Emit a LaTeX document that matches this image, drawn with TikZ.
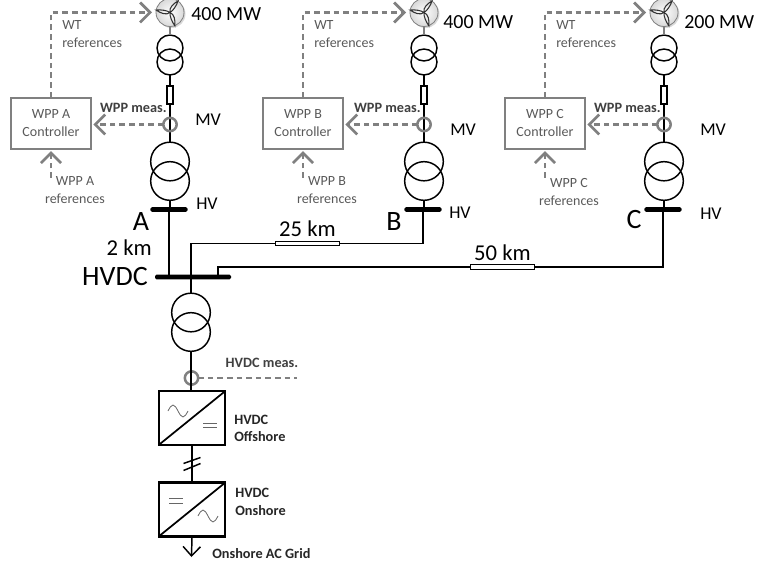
\documentclass[tikz,border=0pt]{standalone}
\usepackage{fontspec}
\setmainfont{Carlito}
\usetikzlibrary{arrows.meta}
\tikzset{
  elec/.style={draw=black,line width=1.1pt,inner sep=0pt,outer sep=0pt},
  trsmall/.style={elec,circle,minimum size=19.5pt},
  trlarge/.style={elec,circle,minimum size=29pt},
  fuse/.style={elec,line width=0.8pt,rectangle,minimum width=4.5pt,minimum height=13.5pt},
  feeder/.style={elec,line width=0.8pt,rectangle,minimum width=48pt,minimum height=3.5pt},
  busbar/.style={fill=black,rounded corners=1.2pt,inner sep=0pt,minimum height=3.6pt},
  conv/.style={elec,line width=1.6pt,rectangle,minimum width=50pt,minimum height=40.5pt},
  wline/.style={line width=1.1pt},
  sig/.style={draw=black!50,line width=1.8pt,dash pattern=on 4.2pt off 3pt},
  sigarrow/.style={sig,-{Straight Barb[length=7.5pt,width=15pt,line width=2pt]}},
  meas/.style={draw=black!50,line width=1.9pt,circle,minimum size=10pt,inner sep=0pt,outer sep=0pt},
  ctrl/.style={draw=black!50,line width=1.5pt,rectangle,minimum width=60pt,minimum height=38pt,inner sep=0pt,
    align=center,text=black!65,font=\fontsize{10.5}{13.5}\selectfont},
  turb/.style={draw=black!50,line width=0.6pt,circle,minimum size=21pt,inner sep=0pt,outer sep=0pt,
    inner color=white,outer color=black!15},
  graytxt/.style={text=black!65,align=left,inner sep=0pt,font=\fontsize{10.5}{13.5}\selectfont},
  boldtxt/.style={text=black!75,align=left,inner sep=0pt,font=\fontsize{10.7}{13}\selectfont\bfseries},
  bigtxt/.style={inner sep=0pt,font=\fontsize{#1}{#1}\selectfont},
  conlab/.style={inner sep=0pt,align=left,font=\fontsize{10.7}{13}\selectfont\bfseries,text=black!85}
}
\begin{document}
\begin{tikzpicture}[x=0.75pt,y=-0.75pt]
\useasboundingbox (0,0) rectangle (758,567);
\foreach \c/\x/\bx/\pw/\pwx/\pwy/\mvx/\mvy/\hvx/\hvy/\lx/\ly/\qy in {%
  A/170/51/400/191/14/195/120/196/204/141/222/176,%
  B/424/303/400/443/22/450/130/449/213/394/222/176,%
  C/664/545/200/684/22/700/130/700/214/634/220/178}{
  % turbine and its shadow
  \fill[black!15] (\x+1.5,14) circle[radius=14];
  \node[turb](NT\c) at (\x,12.5){};
  \foreach \a in {70,190,305}{
    \draw[black!80,line width=0.8pt,shift={(NT\c.center)},rotate=-\a]
      (0,0) .. controls (3,-3.5) and (9,-2.5) .. (14,0) .. controls (9,1.5) and (3,1.5) .. (0,0);
  }
  % transformers and fuse
  \node[trsmall](NSa\c) at (\x,48){};
  \node[trsmall](NSb\c) at (\x,62){};
  \node[fuse](NF\c) at (\x,95){};
  \node[trlarge](NLa\c) at (\x,161.5){};
  \node[trlarge](NLb\c) at (\x,181){};
  \node[busbar,minimum width=28pt](NB\c) at (\x-1,209.5){};
  \draw[black!50,line width=0.8pt] (NT\c.south) -- (NSa\c.north);
  \draw[wline] (NSb\c.south) -- (NF\c.north);
  \draw[wline] (NF\c.south) -- (NLa\c.north);
  \draw[wline] (NLb\c.south) -- (NLb\c.south |- NB\c.center);
  \node[meas](NM\c) at (\x,124.5){};
  % controller and signals
  \node[ctrl](NK\c) at (\bx,123.5){WPP \c\\Controller};
  \coordinate (NR\c) at (\bx,178);
  \draw[sigarrow,shorten >=3pt] (NK\c.north) |- (NT\c.west);
  \draw[sigarrow,shorten >=1pt] (NM\c.west) -- (NK\c.east |- NM\c.west);
  \draw[sigarrow,shorten >=1pt] (NR\c) -- (NK\c.south);
  % labels
  \node[graytxt,anchor=north west](NW\c) at (\bx+11,20){WT\\references};
  \node[boldtxt,anchor=east](NP\c) at (\x-3,107.5){WPP meas.};
  \node[graytxt,align=center,anchor=north](NQ\c) at (\bx+24,\qy){WPP \c\\references};
  \node[bigtxt=15,anchor=west](NV\c) at (\pwx,\pwy){\pw\ MW};
  \node[bigtxt=13.5,anchor=west](NMV\c) at (\mvx,\mvy){MV};
  \node[bigtxt=13.5,anchor=west](NHV\c) at (\hvx,\hvy){HV};
  \node[bigtxt=21](NN\c) at (\lx,\ly){\c};
}
% HVDC bus and feeders
\node[busbar,minimum width=57pt](NBH) at (193,277){};
\node[bigtxt=21,anchor=east](NHD) at (148,277){HVDC};
\node[bigtxt=17,anchor=east](NKM) at (152,248){2 km};
\node[feeder](N25) at (307.5,243.5){};
\node[feeder](N50) at (502.5,267){};
\node[bigtxt=17,above of=N25,node distance=11pt](N25T){25 km};
\node[bigtxt=17,above of=N50,node distance=11pt](N50T){50 km};
\node[trlarge](NXa) at (191,312.5){};
\node[trlarge](NXb) at (191,332){};
\coordinate (NJ) at (218,277);
\draw[wline] (NBA.center) -- (NBA.center |- NBH.center);
\draw[wline] (NBB.center) |- (N25.east);
\draw[wline] (N25.west) -| (NXa.north);
\draw[wline] (NBC.center) |- (N50.east);
\draw[wline] (N50.west) -| (NJ);
% converters
\node[conv](NCa) at (192,418){};
\node[conv](NCb) at (192,509.5){};
\node[meas](NMH) at (191.5,378){};
\coordinate (NE) at (297,378);
\coordinate (NG) at (191.5,557);
\coordinate (NS) at (191.5,463.5);
\draw[wline] (NXb.south) -- (NCa.north -| NXb.south);
\draw[wline] (NCa.south) -- (NCb.north);
\draw[wline] ([shift={(-8,0)}]NS) -- ([shift={(9,-6)}]NS);
\draw[wline] ([shift={(-8,7)}]NS) -- ([shift={(9,0)}]NS);
\draw[wline,-{Straight Barb[length=7pt,width=13pt,line width=1.1pt]}] (NCb.south) -- (NG);
\draw[line width=1.3pt] (NCa.south west) -- (NCa.north east);
\draw[line width=1.3pt] (NCb.south west) -- (NCb.north east);
\draw[sig,line width=1.6pt] (NMH.east) -- (NE);
\draw[black!60,line width=0.6pt] (168,411) sin (173,405) cos (178,411) sin (183,417) cos (188,411);
\draw[black!60,line width=0.6pt] (203,423) -- (217,423) (203,427) -- (217,427);
\draw[black!60,line width=0.6pt] (169,498) -- (183,498) (169,503) -- (183,503);
\draw[black!60,line width=0.6pt] (198,516) sin (203,510) cos (208,516) sin (213,522) cos (218,516);
\node[boldtxt,anchor=center](NHM) at (262,363){HVDC meas.};
\node[conlab,anchor=west](NOF) at (234,428.5){HVDC\\Offshore};
\node[conlab,anchor=west](NON) at (235,502){HVDC\\Onshore};
\node[conlab,anchor=west](NAC) at (212,554){Onshore AC Grid};
\end{tikzpicture}
\end{document}
